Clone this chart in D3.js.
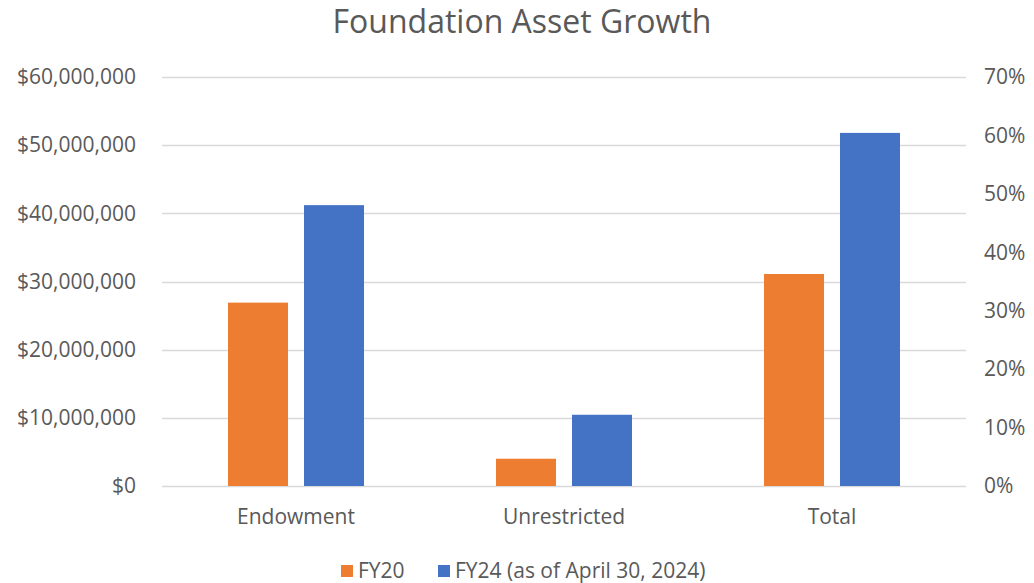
<!DOCTYPE html>
<html>
<head>
<meta charset="utf-8">
<script src="https://cdn.jsdelivr.net/npm/d3@7"></script>
<style>
  html, body { margin: 0; padding: 0; background: #fff; }
  svg text { font-family: "Open Sans", Lato, sans-serif; fill: #595959; }
</style>
</head>
<body>
<svg id="chart" width="1034" height="583"></svg>
<script>
// ── Data ──────────────────────────────────────────────────────────
const categories = ['Endowment', 'Unrestricted', 'Total'];
const seriesNames = ['FY20', 'FY24 (as of April 30, 2024)'];
const fy20 = [26900000, 4000000, 31100000];
const fy24 = [41200000, 10450000, 51800000];
const leftTicks = [0, 10000000, 20000000, 30000000, 40000000, 50000000, 60000000];
const rightTicks = [0, 0.1, 0.2, 0.3, 0.4, 0.5, 0.6, 0.7];
const colors = ['#ED7D31', '#4472C4'];

// ── Layout ────────────────────────────────────────────────────────
const W = 1034, H = 583;
const plot = { left: 162, right: 966, top: 77, bottom: 486 };
const labelSize = '21px';

const svg = d3.select('#chart');

const x = d3.scaleBand()
  .domain(categories)
  .range([plot.left, plot.right])
  .paddingInner(0).paddingOuter(0);

const inner = d3.scaleBand()
  .domain(seriesNames)
  .range([0, 136])
  .paddingInner(16 / 76);

const y = d3.scaleLinear().domain([0, 60000000]).range([plot.bottom, plot.top]);
const y2 = d3.scaleLinear().domain([0, 0.7]).range([plot.bottom, plot.top]);

// title
svg.append('text')
  .attr('x', W / 2 + 5).attr('y', 33)
  .attr('text-anchor', 'middle')
  .style('font-size', '32px')
  .text('Foundation Asset Growth');

// gridlines
svg.append('g')
  .selectAll('line')
  .data(leftTicks)
  .join('line')
  .attr('x1', plot.left).attr('x2', plot.right)
  .attr('y1', d => Math.round(y(d)) + 0.5).attr('y2', d => Math.round(y(d)) + 0.5)
  .attr('stroke', '#d9d9d9').attr('stroke-width', 1.5);

// left axis
const fmtMoney = d => '$' + d3.format(',')(d);
const leftAxis = svg.append('g')
  .attr('transform', `translate(${plot.left - 26},0)`)
  .call(d3.axisLeft(y).tickValues(leftTicks).tickFormat(fmtMoney).tickSize(0).tickPadding(0));
leftAxis.select('.domain').remove();
leftAxis.selectAll('text').style('font-size', labelSize).attr('fill', '#595959');

// right axis
const rightAxis = svg.append('g')
  .attr('transform', `translate(${plot.right + 18},0)`)
  .call(d3.axisRight(y2).tickValues(rightTicks).tickFormat(d3.format('.0%')).tickSize(0).tickPadding(0));
rightAxis.select('.domain').remove();
rightAxis.selectAll('text').style('font-size', labelSize).attr('fill', '#595959');

// bottom category labels
const bottomAxis = svg.append('g')
  .attr('transform', `translate(0,${plot.bottom})`)
  .call(d3.axisBottom(x).tickSize(0).tickPadding(23));
bottomAxis.select('.domain').remove();
bottomAxis.selectAll('text').style('font-size', labelSize).attr('fill', '#595959');

// bars
const groupOffset = (x.bandwidth() - inner.range()[1]) / 2;
const rows = categories.map((c, i) => ({ cat: c, vals: [fy20[i], fy24[i]] }));
svg.append('g')
  .selectAll('g')
  .data(rows)
  .join('g')
  .attr('transform', d => `translate(${x(d.cat) + groupOffset},0)`)
  .selectAll('rect')
  .data(d => d.vals.map((v, j) => ({ v, s: seriesNames[j], j })))
  .join('rect')
  .attr('x', d => inner(d.s))
  .attr('width', inner.bandwidth())
  .attr('y', d => y(d.v))
  .attr('height', d => y(0) - y(d.v))
  .attr('fill', d => colors[d.j]);

// legend
const legend = svg.append('g').attr('transform', 'translate(0,571)');
const legendX = [341, 438];
const items = legend.selectAll('g')
  .data(seriesNames)
  .join('g')
  .attr('transform', (d, i) => `translate(${legendX[i]},0)`);
items.append('rect')
  .attr('x', 0).attr('y', -6).attr('width', 12).attr('height', 12)
  .attr('fill', (d, i) => colors[i]);
items.append('text')
  .attr('x', 17).attr('y', 0).attr('dy', '0.33em')
  .style('font-size', labelSize)
  .text(d => d);
</script>
</body>
</html>
